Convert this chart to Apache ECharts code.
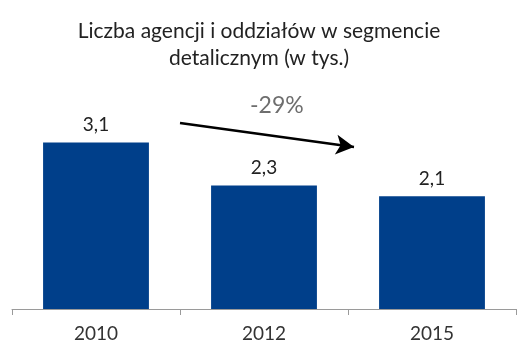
<!DOCTYPE html>
<html>
<head>
<meta charset="utf-8">
<script src="https://cdn.jsdelivr.net/npm/echarts@6/dist/echarts.min.js"></script>
<style>
  html, body { margin: 0; padding: 0; background: #fff; }
  #chart { width: 518px; height: 350px; }
</style>
</head>
<body>
<div id="chart"></div>
<script>
// Number of agency and branch outlets in the retail segment (thousands)
const years = ['2010', '2012', '2015'];
const outlets = [3.1, 2.3, 2.1];
const changeLabel = '-29%';

const FONT = 'Lato, "Open Sans", sans-serif';

const chart = echarts.init(document.getElementById('chart'), null, { renderer: 'canvas' });

chart.setOption({
  backgroundColor: '#ffffff',
  animation: false,
  title: {
    text: 'Liczba agencji i oddziałów w segmencie\ndetalicznym (w tys.)',
    left: 'center',
    top: 13,
    textStyle: {
      fontFamily: FONT,
      fontSize: 21,
      fontWeight: 'normal',
      color: '#222222',
      lineHeight: 27
    }
  },
  grid: { left: 12, right: 2, top: 121, bottom: 41 },
  xAxis: {
    type: 'category',
    data: years,
    axisLine: { lineStyle: { color: '#9a9a9a', width: 1 } },
    axisTick: { show: true, length: 6, lineStyle: { color: '#9a9a9a' } },
    axisLabel: {
      fontFamily: FONT,
      fontSize: 19,
      color: '#333333',
      margin: 15
    }
  },
  yAxis: {
    type: 'value',
    min: 0,
    max: 3.5,
    show: false
  },
  series: [{
    type: 'bar',
    data: outlets,
    barWidth: '63%',
    itemStyle: { color: '#003f8a' },
    label: {
      show: true,
      position: 'top',
      distance: 8,
      fontFamily: FONT,
      fontSize: 19,
      color: '#222222',
      formatter: p => String(p.value).replace('.', ',')
    },
    markLine: {
      silent: true,
      symbol: ['none', 'arrow'],
      symbolSize: [15, 18],
      label: { show: false },
      lineStyle: { color: '#000000', width: 2.5, type: 'solid' },
      data: [[{ x: 180, y: 123 }, { x: 354, y: 147 }]]
    }
  }],
  graphic: [{
    type: 'text',
    left: 250,
    top: 94,
    style: {
      text: changeLabel,
      fontFamily: FONT,
      fontSize: 23,
      fill: '#6e6e6e'
    }
  }]
});
</script>
</body>
</html>
